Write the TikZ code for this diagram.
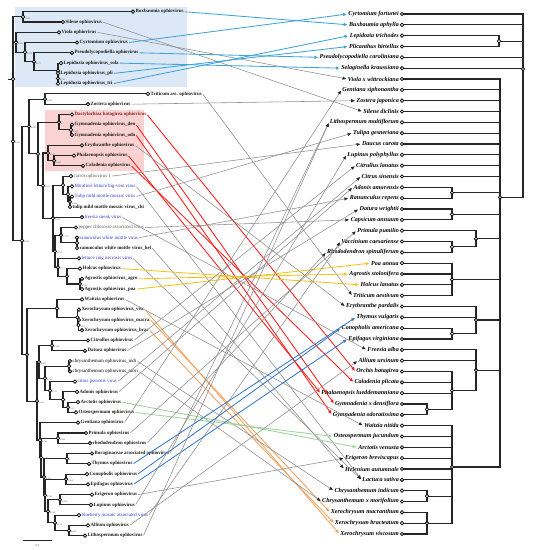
\documentclass[tikz,border=0pt]{standalone}
\usepackage{fontspec}
\setmainfont{Liberation Serif}
\usetikzlibrary{arrows.meta}
\definecolor{boxblue}{HTML}{DCE8F5}
\definecolor{boxpink}{HTML}{FBD2D2}
\definecolor{lnblue}{HTML}{3FA3DB}
\definecolor{lnblueb}{HTML}{3B78C8}
\definecolor{lnred}{HTML}{FF1A1A}
\definecolor{lnyel}{HTML}{F5C21B}
\definecolor{lngreen}{HTML}{9ED39B}
\definecolor{lnorange}{HTML}{F4A15D}
\definecolor{lngray}{HTML}{8C8C8C}
\definecolor{txblue}{HTML}{3535CC}
\definecolor{txred}{HTML}{8A2323}
\newcommand{\cladeto}[2]{\foreach \c in {#2}{\draw[treeline] (#1) |- (\c);}}
\tikzset{
  treeline/.style={line width=1.1pt, draw=black!85},
  dotn/.style={circle, draw=black, fill=white, inner sep=0pt, minimum size=3.4pt, line width=0.75pt},
  vlab/.style={anchor=west, inner sep=0.6pt, font=\fontsize{4.9}{5.2}\selectfont},
  vb/.style={font=\fontsize{4.9}{5.2}\selectfont\bfseries, text=black!90},
  vg/.style={text=black!65},
  vn/.style={text=black},
  vbl/.style={text=txblue},
  vr/.style={font=\fontsize{4.9}{5.2}\selectfont\bfseries, text=txred},
  hlab/.style={anchor=east, inner sep=0.6pt, font=\fontsize{6.1}{7}\selectfont\bfseries\itshape},
  supp/.style={anchor=west, inner sep=0pt, font=\fontsize{2.2}{2.5}\selectfont, text=black!70},
  cbase/.style={line width=0.85pt, shorten >=1pt, shorten <=0.5pt},
  cg/.style={cbase, draw=lngray, line width=0.55pt, -{Triangle[length=3.6pt,width=3pt,color=black!85]}},
  cbl/.style={cbase, draw=lnblue, -{Triangle[length=3.6pt,width=3pt]}},
  cb2/.style={cbase, draw=lnblueb, -{Triangle[length=3.6pt,width=3pt]}},
  cr/.style={cbase, draw=lnred, -{Triangle[length=3.6pt,width=3pt]}},
  cy/.style={cbase, draw=lnyel, -{Triangle[length=3.6pt,width=3pt]}},
  cgr/.style={cbase, draw=lngreen, -{Triangle[length=3.6pt,width=3pt]}},
  co/.style={cbase, draw=lnorange, -{Triangle[length=3.6pt,width=3pt]}}
}
\begin{document}
\begin{tikzpicture}[x=1pt,y=-1pt]
\useasboundingbox (0,0) rectangle (533,550);
% highlight boxes
\fill[boxblue] (15,7) rectangle (187,87);
\fill[boxpink] (45,110) rectangle (144,171);

% ---------- left tree tips ----------
\foreach \i/\x/\y/\s/\t in {
1/133/11.7/vb/Buxbaumia ophiovirus,
2/63/22.0/vb/Silene ophiovirus,
3/59/32.3/vb/Viola ophiovirus,
4/77/42.5/vb/Cyrtomium ophiovirus,
5/72/52.8/vb/Pseudolycopodiella ophiovirus,
6/61/63.1/vb/Lepidozia ophiovirus\_sola,
7/58/73.4/vb/Lepidozia ophiovirus\_pli,
8/58/83.6/vb/Lepidozia ophiovirus\_tri,
9/148/93.9/vb/Triticum ass. ophiovirus,
10/88/104.2/vb/Zostera ophiovirus,
11/72/114.5/vr/Dactylorhiza hatagirea ophiovirus,
12/72/124.7/vb/Gymnadenia ophiovirus\_den,
13/72/135.0/vb/Gymnadenia ophiovirus\_odo,
14/82/145.3/vb/Erythranthe ophiovirus,
15/74/155.6/vb/Phalaenopsis ophiovirus,
16/83/165.8/vb/Caladenia ophiovirus,
17/71/176.1/vg/carrot ophiovirus 1,
18/72/186.4/vbl/Mirafiori lettuce big-vein virus,
19/72/196.6/vbl/Tulip mild mottle mosaic virus,
20/70/206.9/vb/tulip mild mottle mosaic virus\_chi,
21/82/217.2/vbl/freesia sneak virus,
22/76/227.5/vg/pepper chlorosis-associated virus,
23/77/237.7/vbl/ranunculus white mottle virus,
24/77/248.0/vb/ranunculus white mottle virus\_hel,
25/79/258.3/vbl/lettuce ring necrosis virus,
26/80/268.6/vb/Holcus ophiovirus,
27/82/278.8/vb/Agrostis ophiovirus\_agro,
28/82/289.1/vb/Agrostis ophiovirus\_poa,
29/82/299.4/vb/Waitzia ophiovirus,
30/79/309.7/vb/Xerochrysum ophiovirus\_visc,
31/79/320.0/vb/Xerochrysum ophiovirus\_macra,
32/82/330.2/vb/Xerochrysum ophiovirus\_brac,
33/88/340.5/vb/Citrullus ophiovirus,
34/85/350.8/vb/Datura ophiovirus,
35/70/361.0/vn/chrysanthemum ophiovirus\_indi,
36/70/371.3/vn/chrysanthemum ophiovirus\_mori,
37/75/381.6/vbl/citrus psorosis virus,
38/77/391.9/vb/Adonis ophiovirus,
39/78/402.1/vb/Arctotis ophiovirus,
40/76/412.4/vb/Osteospermum ophiovirus,
41/78/422.7/vb/Gentiana ophiovirus,
42/86/433.0/vb/Primula ophiovirus,
43/90/443.2/vb/rhododendron ophiovirus,
44/92/453.5/vb/Boraginaceae associated ophiovirus,
45/89/463.8/vb/Thymus ophiovirus,
46/87/474.1/vb/Conopholis ophiovirus,
47/88/484.3/vb/Epifagus ophiovirus,
48/92/494.6/vb/Erigeron ophiovirus,
49/91/504.9/vb/Lupinus ophiovirus,
50/79/515.1/vbl/blueberry mosaic associated virus,
51/88/525.4/vb/Allium ophiovirus,
52/85/535.7/vb/Lithospermum ophiovirus}{
  \coordinate (vc\i) at (\x,\y);
  \node[vlab,\s] (v\i) at (\x+1.9,\y) {\t};
}

% ---------- right tree tips ----------
\foreach \i/\t in {
1/Cyrtomium fortunei, 2/Buxbaumia aphylla, 3/Lepidozia trichodes, 4/Plicanthus hirtellus,
5/Pseudolycopodiella caroliniana, 6/Selaginella kraussiana, 7/Viola x wittrockiana,
8/Gentiana siphonantha, 9/Zostera japonica, 10/Silene diclinis, 11/Lithospermum multiflorum,
12/Tulipa gesneriana, 13/Daucus carota, 14/Lupinus polyphyllus, 15/Citrullus lanatus,
16/Citrus sinensis, 17/Adonis amurensis, 18/Ranunculus repens, 19/Datura wrightii,
20/Capsicum annuum, 21/Primula pumilio, 22/Vaccinium caesariense, 23/Rhododendron spinuliferum,
24/Poa annua, 25/Agrostis stolonifera, 26/Holcus lanatus, 27/Triticum aestivum,
28/Erythranthe pardalis, 29/Thymus vulgaris, 30/Conopholis americana, 31/Epifagus virginiana,
32/Freesia alba, 33/Allium ursinum, 34/Orchis hatagirea, 35/Caladenia plicata,
36/Phalaenopsis lueddemanniana, 37/Gymnadenia x densiflora, 38/Gymnadenia odoratissima,
39/Waitzia nitida, 40/Osteospermum jucundum, 41/Arctotis venusta, 42/Erigeron breviscapus,
43/Helenium autumnale, 44/Lactuca sativa, 45/Chrysanthemum indicum,
46/Chrysanthemum x morifolium, 47/Xerochrysum macranthum, 48/Xerochrysum bracteatum,
49/Xerochrysum viscosum}{
  \pgfmathsetmacro{\yy}{14+(\i-1)*10.833}
  \coordinate (hc\i) at (402,\yy);
  \node[hlab] (h\i) at (399.6,\yy) {\t};
}

% ---------- connectors ----------
\foreach \a/\b/\s in {
1/2/cbl, 2/10/cg, 3/7/cg, 4/1/cbl, 5/5/cbl, 6/6/cbl, 7/4/cbl, 8/3/cbl, 9/27/cg, 10/9/cg,
11/34/cr, 12/37/cr, 13/38/cr, 14/28/cg, 15/36/cr, 16/35/cr, 17/13/cg, 18/44/cg, 19/12/cg,
21/32/cg, 22/20/cg, 23/18/cg, 24/43/cg, 25/44/cg, 26/26/cy, 27/25/cy, 28/24/cy,
29/39/cg, 30/49/co, 31/47/co, 32/48/co, 33/15/cg, 34/19/cg, 35/45/cg, 36/46/cg, 37/16/cg,
38/17/cg, 39/41/cgr, 40/40/cgr, 41/8/cg, 42/21/cg, 43/23/cg, 44/11/cg, 45/29/cb2, 46/30/cb2,
47/31/cb2, 48/42/cg, 49/14/cg, 50/22/cg, 51/33/cg, 52/11/cg}{
  \draw[\s] (v\a.east) -- (h\b.west);
}

% ---------- left tree internal nodes ----------
\coordinate (Lroot) at (13,79.1);
\coordinate (Lstub) at (8,79.1);
\coordinate (LBS) at (23,16.85);
\coordinate (LX) at (13,141.4);
\coordinate (LA) at (16,42.2);
\coordinate (LB) at (25,52.15);
\coordinate (LC) at (34,61.8);
\coordinate (LD) at (58,70.8);
\coordinate (LPT) at (58,78.5);
\coordinate (LY) at (22,240.6);
\coordinate (LZ) at (29,126.5);
\coordinate (LT) at (45,99.05);
\coordinate (LQ) at (38,153.9);
\coordinate (LGD) at (59,122.2);
\coordinate (LGN) at (71,129.85);
\coordinate (LR) at (43,185.6);
\coordinate (LEC) at (48,153.0);
\coordinate (LPC) at (54,160.7);
\coordinate (LU) at (53,218.2);
\coordinate (LCM) at (63,185.1);
\coordinate (LMT) at (68,194.1);
\coordinate (LTT) at (70,201.75);
\coordinate (LV) at (55,251.25);
\coordinate (LPR) at (61,235.2);
\coordinate (LRR) at (77,242.85);
\coordinate (LLG) at (58,267.3);
\coordinate (LHA) at (67,276.3);
\coordinate (LAP) at (80,283.95);
\coordinate (LW) at (27,354.7);
\coordinate (LWX) at (57,308.4);
\coordinate (LXV) at (77.5,317.4);
\coordinate (LXMB) at (78.5,325.1);
\coordinate (LK) at (37,401.05);
\coordinate (LM) at (39,362.0);
\coordinate (LCD) at (52,345.65);
\coordinate (LCC) at (45,378.4);
\coordinate (LCH) at (69,366.15);
\coordinate (LCPA) at (50,390.6);
\coordinate (LAAO) at (63,399.6);
\coordinate (LAOs) at (68,407.25);
\coordinate (LN) at (40,440.1);
\coordinate (LPB) at (41,457.5);
\coordinate (LPRh) at (58,438.1);
\coordinate (LBTC) at (44,476.95);
\coordinate (LBT) at (67,458.65);
\coordinate (LCEB) at (45,495.25);
\coordinate (LCE) at (66,479.2);
\coordinate (LELB) at (48,511.3);
\coordinate (LEL) at (60,499.75);
\coordinate (LBAL) at (55,522.8);
\coordinate (LAL) at (69,530.55);

\draw[treeline] (Lroot) -- (Lstub);
\cladeto{Lroot}{LBS,LX}
\cladeto{LBS}{vc1,vc2}
\cladeto{LX}{LA,LY}
\cladeto{LA}{vc3,LB}
\cladeto{LB}{vc4,LC}
\cladeto{LC}{vc5,LD}
\cladeto{LD}{vc6,LPT}
\cladeto{LPT}{vc7,vc8}
\cladeto{LY}{LZ,LW}
\cladeto{LZ}{LT,LQ}
\cladeto{LT}{vc9,vc10}
\cladeto{LQ}{LGD,LR}
\cladeto{LGD}{vc11,LGN}
\cladeto{LGN}{vc12,vc13}
\cladeto{LR}{LEC,LU}
\cladeto{LEC}{vc14,LPC}
\cladeto{LPC}{vc15,vc16}
\cladeto{LU}{LCM,vc21,LV}
\cladeto{LCM}{vc17,LMT}
\cladeto{LMT}{vc18,LTT}
\cladeto{LTT}{vc19,vc20}
\cladeto{LV}{LPR,LLG}
\cladeto{LPR}{vc22,LRR}
\cladeto{LRR}{vc23,vc24}
\cladeto{LLG}{vc25,LHA}
\cladeto{LHA}{vc26,LAP}
\cladeto{LAP}{vc27,vc28}
\cladeto{LW}{LWX,LK}
\cladeto{LWX}{vc29,LXV}
\cladeto{LXV}{vc30,LXMB}
\cladeto{LXMB}{vc31,vc32}
\cladeto{LK}{LM,LN}
\cladeto{LM}{LCD,LCC}
\cladeto{LCD}{vc33,vc34}
\cladeto{LCC}{LCH,LCPA}
\cladeto{LCH}{vc35,vc36}
\cladeto{LCPA}{vc37,LAAO}
\cladeto{LAAO}{vc38,LAOs}
\cladeto{LAOs}{vc39,vc40}
\cladeto{LN}{vc41,LPB}
\cladeto{LPB}{LPRh,LBTC}
\cladeto{LPRh}{vc42,vc43}
\cladeto{LBTC}{LBT,LCEB}
\cladeto{LBT}{vc44,vc45}
\cladeto{LCEB}{LCE,LELB}
\cladeto{LCE}{vc46,vc47}
\cladeto{LELB}{LEL,LBAL}
\cladeto{LEL}{vc48,vc49}
\cladeto{LBAL}{vc50,LAL}
\cladeto{LAL}{vc51,vc52}

% ---------- right tree internal nodes ----------
\coordinate (Rroot) at (523,69);
\coordinate (RLP) at (499,41.1);
\coordinate (RAng) at (500,197.3);
\coordinate (RAR) at (452,192.75);
\coordinate (RDC) at (452,214.4);
\coordinate (RVR) at (452,246.9);
\coordinate (RPVR) at (476,238.8);
\coordinate (RGr) at (452,279.5);
\coordinate (RCE) at (452,333.6);
\coordinate (RLam) at (476,320);
\coordinate (RGG) at (427,409.4);
\coordinate (ROr) at (452,390.5);
\coordinate (RMo) at (476,370.2);
\coordinate (RCh) at (427,496.1);
\coordinate (RXe) at (427,523.2);
\coordinate (RAst) at (452,467);

\cladeto{Rroot}{hc1,hc2,RLP,hc5,hc6,RAng}
\cladeto{RLP}{hc3,hc4}
\cladeto{RAng}{hc7,hc8,hc9,hc10,hc11,hc12,hc13,hc14,hc15,hc16,RAR,RDC,RPVR,RGr,RLam,RMo,RAst}
\cladeto{RAR}{hc17,hc18}
\cladeto{RDC}{hc19,hc20}
\cladeto{RPVR}{hc21,RVR}
\cladeto{RVR}{hc22,hc23}
\cladeto{RGr}{hc24,hc25,hc26,hc27}
\cladeto{RLam}{hc28,hc29,RCE}
\cladeto{RCE}{hc30,hc31}
\cladeto{RMo}{hc32,hc33,ROr}
\cladeto{ROr}{hc34,hc35,hc36,RGG}
\cladeto{RGG}{hc37,hc38}
\cladeto{RAst}{hc39,hc40,hc41,hc42,hc43,hc44,RCh,RXe}
\cladeto{RCh}{hc45,hc46}
\cladeto{RXe}{hc47,hc48,hc49}

% ---------- node circles ----------
\foreach \n in {Lroot,LBS,LX,LA,LB,LC,LD,LPT,LY,LZ,LT,LQ,LGD,LGN,LR,LEC,LPC,LU,LCM,LMT,LTT,LV,LPR,LRR,LLG,LHA,LAP,LW,LWX,LXV,LXMB,LK,LM,LCD,LCC,LCH,LCPA,LAAO,LAOs,LN,LPB,LPRh,LBTC,LBT,LCEB,LCE,LELB,LEL,LBAL,LAL,Rroot,RLP,RAng,RAR,RDC,RVR,RPVR,RGr,RCE,RLam,RGG,ROr,RMo,RCh,RXe,RAst}{
  \node[dotn] (d\n) at (\n) {};
}
\foreach \i in {1,...,52}{\node[dotn] (dv\i) at (vc\i) {};}
\foreach \i in {1,...,49}{\node[dotn] (dh\i) at (hc\i) {};}

% ---------- support values ----------
\foreach \n/\t in {LBS/1.000,LA/0.629,LB/0.999,LC/0.977,LPT/0.740,LX/0.610,LT/0.999,LZ/0.999,
LGD/1,LGN/0.999,LEC/0.997,LPC/0.992,LR/0.624,LTT/0.882,LU/0.999,LPR/0.770,LV/0.601,LLG/0.771,
LAP/0.999,LY/0.999,LWX/1,LXMB/0.927,LCD/0.788,LM/0.980,LCC/0.798,LCPA/0.539,LAOs/0.927,LAAO/1,
LK/1.000,LN/0.746,LPRh/0.984,LPB/0.999,LBT/1,LCE/0.999,LBTC/0.826,LCEB/0.782,LELB/0.928,
LEL/0.990,LBAL/0.970,LAL/0.966}{
  \node[supp] (s\n) at ([xshift=1.8pt,yshift=-1.6pt]\n) {\t};
}

% ---------- scale bar ----------
\coordinate (sbA) at (23,540);
\coordinate (sbB) at (52,540);
\draw[line width=0.8pt, black!85] (sbA) -- (sbB);
\node[font=\fontsize{3}{3.5}\selectfont, text=black!70, inner sep=0pt] (sbl) at (37.5,546) {0.1};
\end{tikzpicture}
\end{document}
